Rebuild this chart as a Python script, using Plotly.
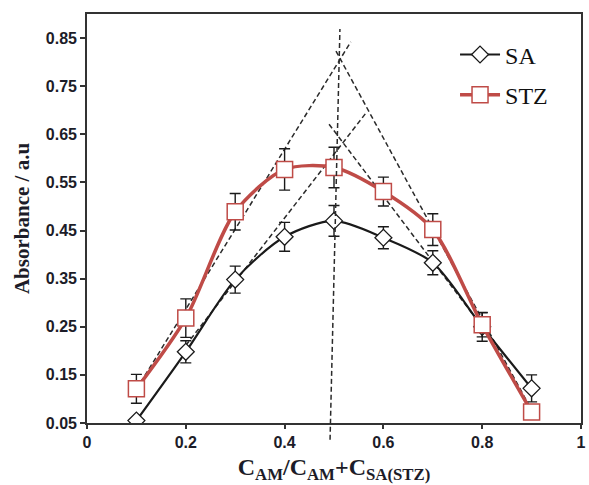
import plotly.graph_objects as go

# ---- data ----
x_vals = [0.1, 0.2, 0.3, 0.4, 0.5, 0.6, 0.7, 0.8, 0.9]
sa_vals = [0.055, 0.198, 0.348, 0.437, 0.470, 0.435, 0.383, 0.250, 0.122]
sa_err = [0.004, 0.023, 0.028, 0.030, 0.032, 0.023, 0.025, 0.030, 0.028]
stz_vals = [0.121, 0.268, 0.489, 0.577, 0.581, 0.531, 0.452, 0.254, 0.073]
stz_err = [0.030, 0.040, 0.038, 0.043, 0.042, 0.030, 0.033, 0.025, 0.004]

# tangent (guide) lines: [x0, x1], [y0, y1]
guide_stz_up_x = [0.10, 0.534]
guide_stz_up_y = [0.120, 0.842]
guide_stz_down_x = [0.504, 0.90]
guide_stz_down_y = [0.823, 0.077]
guide_sa_up_x = [0.19, 0.566]
guide_sa_up_y = [0.198, 0.696]
guide_sa_down_x = [0.49, 0.805]
guide_sa_down_y = [0.671, 0.243]
guide_vert_x = [0.492, 0.512]
guide_vert_y = [0.015, 0.869]

x_ticks = [0, 0.2, 0.4, 0.6, 0.8, 1.0]
x_ticklabels = ["0", "0.2", "0.4", "0.6", "0.8", "1"]
y_ticks = [0.05, 0.15, 0.25, 0.35, 0.45, 0.55, 0.65, 0.75, 0.85]
y_ticklabels = ["0.05", "0.15", "0.25", "0.35", "0.45", "0.55", "0.65", "0.75", "0.85"]
x_range = [0, 1]
y_range = [0.05, 0.9]

RED = "#bf4b47"
DASH = dict(color="#2a2a2a", width=1.5, dash="5px,3px")

fig = go.Figure()

for gx, gy in [(guide_stz_up_x, guide_stz_up_y), (guide_stz_down_x, guide_stz_down_y),
               (guide_sa_up_x, guide_sa_up_y), (guide_sa_down_x, guide_sa_down_y)]:
    fig.add_trace(go.Scatter(x=gx, y=gy, mode="lines", line=DASH,
                             showlegend=False, hoverinfo="skip"))

fig.add_trace(go.Scatter(
    x=x_vals, y=sa_vals, name="SA", legendgroup="sa",
    mode="lines+markers",
    line=dict(color="#1a1a1a", width=2.2, shape="spline", smoothing=0.8),
    marker=dict(symbol="diamond", size=13, color="white",
                line=dict(color="#1a1a1a", width=1.3)),
    error_y=dict(type="data", array=sa_err, visible=True, color="#1a1a1a",
                 thickness=1.4, width=5.5),
))
fig.add_trace(go.Scatter(
    x=x_vals, y=stz_vals, name="STZ", legendgroup="stz",
    mode="lines+markers",
    line=dict(color=RED, width=3.5, shape="spline", smoothing=0.8),
    marker=dict(symbol="square", size=16, color="white",
                line=dict(color=RED, width=1.5)),
    error_y=dict(type="data", array=stz_err, visible=True, color="#1a1a1a",
                 thickness=1.4, width=5.5),
))

def to_paper(v, r):
    return (v - r[0]) / (r[1] - r[0])

fig.add_shape(type="line", xref="paper", yref="paper",
              x0=to_paper(guide_vert_x[0], x_range), y0=to_paper(guide_vert_y[0], y_range),
              x1=to_paper(guide_vert_x[1], x_range), y1=to_paper(guide_vert_y[1], y_range),
              line=DASH, layer="above")

tickfont = dict(family="Liberation Sans, Arial", size=16, color="#1c1c28", weight="bold")

fig.update_layout(
    width=589, height=485,
    margin=dict(l=87, r=3, t=14, b=62),
    paper_bgcolor="white", plot_bgcolor="white",
    showlegend=True,
    legend=dict(x=0.745, y=0.955, xanchor="left", yanchor="top",
                font=dict(family="Liberation Serif, Times New Roman", size=24, color="#111111"),
                bgcolor="rgba(0,0,0,0)", tracegroupgap=6, itemwidth=40),
    xaxis=dict(range=x_range, tickvals=x_ticks, ticktext=x_ticklabels,
               showgrid=False, zeroline=False, showline=True, linecolor="#333333",
               linewidth=1.6, mirror=True, ticks="outside", ticklen=4, tickwidth=1.5,
               tickcolor="#333333", tickfont=tickfont,
               title=dict(text="C<sub>AM</sub>/C<sub>AM</sub>+C<sub>SA(STZ)</sub>",
                          font=dict(family="Liberation Serif, Times New Roman", size=24,
                                    color="#1c1c28", weight="bold"),
                          standoff=8)),
    yaxis=dict(range=y_range, tickvals=y_ticks, ticktext=y_ticklabels,
               showgrid=False, zeroline=False, showline=True, linecolor="#333333",
               linewidth=1.6, mirror=True, ticks="outside", ticklen=5, tickwidth=1.5,
               tickcolor="#333333", tickfont=tickfont,
               title=dict(text="Absorbance / a.u",
                          font=dict(family="Liberation Serif, Times New Roman", size=21,
                                    color="#1c1c28", weight="bold"),
                          standoff=11)),
)

fig.write_html("out.html")
